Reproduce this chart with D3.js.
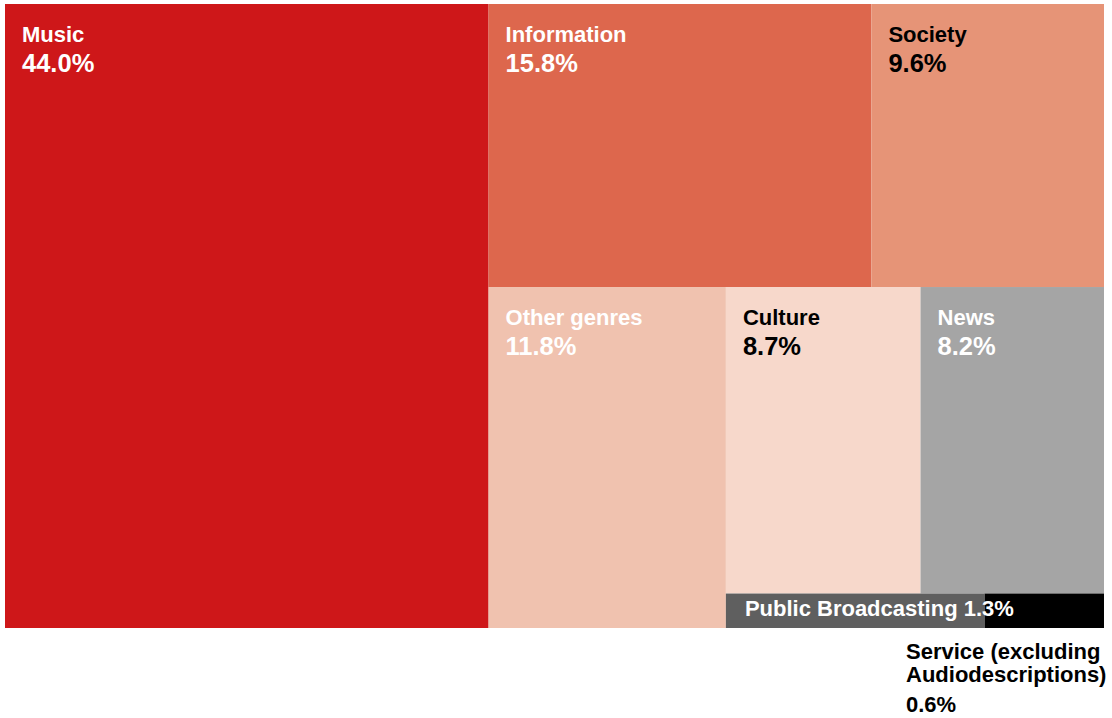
<!DOCTYPE html>
<html>
<head>
<meta charset="utf-8">
<script src="https://cdn.jsdelivr.net/npm/d3@7"></script>
<style>
  html, body { margin: 0; padding: 0; background: #fff; }
  svg { display: block; }
  text { font-family: "Liberation Sans", Arial, sans-serif; font-weight: 700; }
</style>
</head>
<body>
<svg id="chart" width="1112" height="718"></svg>
<script>
// Share of broadcast time by genre (percent)
const categories = [
  "Music", "Information", "Society", "Other genres",
  "Culture", "News", "Public Broadcasting", "Service (excluding Audiodescriptions)"
];
const shares = [44.0, 15.8, 9.6, 11.8, 8.7, 8.2, 1.3, 0.6];
const fills = ["#ce1719", "#dd674d", "#e69477", "#f0c2af", "#f7d8cb", "#a5a5a5", "#5f5f5f", "#000000"];
const inks  = ["#ffffff", "#ffffff", "#000000", "#ffffff", "#000000", "#ffffff", "#ffffff", "#000000"];

// How the tiles are grouped: "row" places children side by side, "col" stacks them.
const structure = {
  split: "row", children: [
    { leaf: 0 },
    { split: "col", children: [
      { split: "row", children: [{ leaf: 1 }, { leaf: 2 }] },
      { split: "row", children: [
        { leaf: 3 },
        { split: "col", children: [
          { split: "row", children: [{ leaf: 4 }, { leaf: 5 }] },
          { split: "row", children: [{ leaf: 6 }, { leaf: 7 }] }
        ]}
      ]}
    ]}
  ]
};

const margin = { left: 5, top: 4 };
const W = 1099, H = 624;

const root = d3.hierarchy(structure)
  .sum(d => d.leaf !== undefined ? shares[d.leaf] : 0);

d3.treemap()
  .size([W, H])
  .tile((node, x0, y0, x1, y1) =>
    (node.data.split === "row" ? d3.treemapDice : d3.treemapSlice)(node, x0, y0, x1, y1))
  (root);

const svg = d3.select("#chart");
const g = svg.append("g").attr("transform", `translate(${margin.left},${margin.top})`);
const fmt = v => d3.format(".1f")(v) + "%";

const leaves = root.leaves();

g.selectAll("rect")
  .data(leaves)
  .join("rect")
  .attr("x", d => d.x0)
  .attr("y", d => d.y0)
  .attr("width", d => d.x1 - d.x0)
  .attr("height", d => d.y1 - d.y0)
  .attr("fill", d => fills[d.data.leaf]);

const nameSize = 22;
const valueSize = 25.5;
const padX = 17;

// Regular tiles: name on one line, larger share below
const big = leaves.filter(d => d.data.leaf < 6);
const lab = g.selectAll("g.lab").data(big).join("g")
  .attr("class", "lab")
  .attr("transform", d => `translate(${d.x0 + padX},${d.y0 + 38})`)
  .attr("fill", d => inks[d.data.leaf]);
lab.append("text").style("font-size", nameSize + "px").text(d => categories[d.data.leaf]);
lab.append("text").attr("y", 30).style("font-size", valueSize + "px").text(d => fmt(d.value));

// Thin strip: name and share on one line
const pb = leaves.find(d => d.data.leaf === 6);
g.append("text")
  .attr("x", pb.x0 + padX + 2)
  .attr("y", (pb.y0 + pb.y1) / 2 + 5)
  .attr("fill", inks[6])
  .style("font-size", nameSize + "px")
  .text(categories[6] + " " + fmt(pb.value));

// Smallest tile: label set below the treemap, near its right edge
const sv = leaves.find(d => d.data.leaf === 7);
const svLines = ["Service (excluding", "Audiodescriptions)"];
const svText = g.append("text")
  .attr("fill", inks[7])
  .style("font-size", nameSize + "px");
svText.selectAll("tspan").data(svLines).join("tspan")
  .attr("x", sv.x1 - 198)
  .attr("y", (d, i) => sv.y1 + 31 + i * 23)
  .text(d => d);
g.append("text")
  .attr("x", sv.x1 - 198)
  .attr("y", sv.y1 + 84)
  .attr("fill", inks[7])
  .style("font-size", nameSize + "px")
  .text(fmt(sv.value));
</script>
</body>
</html>
